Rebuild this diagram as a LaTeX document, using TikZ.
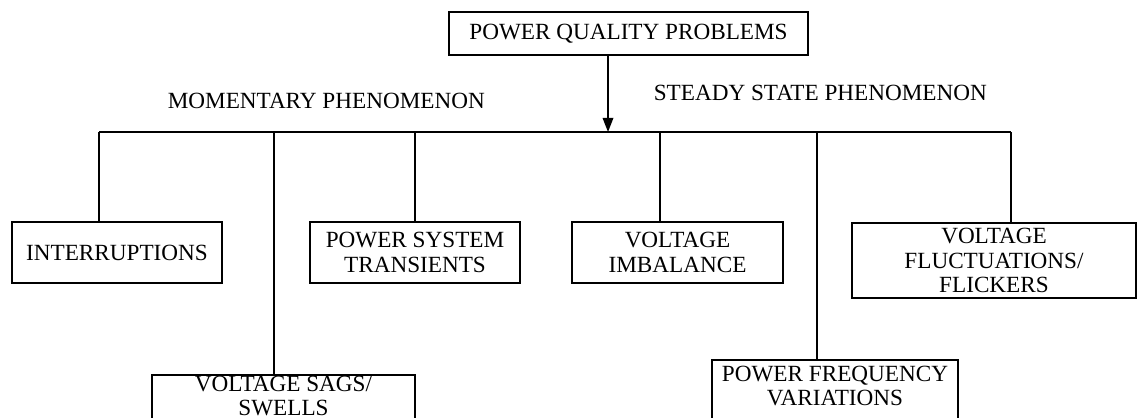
\documentclass[tikz,border=0pt]{standalone}
\usepackage{fontspec}
\setmainfont{Liberation Serif}
\usetikzlibrary{arrows.meta,positioning}

\begin{document}
\begin{tikzpicture}[x=0.02cm,y=-0.02cm,>={Triangle[width=6pt,length=8pt]},
  line width=0.9pt,font=\fontsize{13.2}{13.8}\selectfont,
  pqbox/.style={draw,align=center,inner sep=1pt,minimum height=1.22cm}]
\useasboundingbox (0,0) rectangle (1143,417);
\clip (0,0) rectangle (1143,417);
\node[pqbox,minimum width=7.18cm,minimum height=0.86cm] (PQ) at (628.5,33.5) {POWER QUALITY PROBLEMS};
\node[anchor=west,inner sep=0pt] (MOM) at (167,101) {MOMENTARY PHENOMENON};
\node[anchor=west,inner sep=0pt] (SSP) at (653,93) {STEADY STATE PHENOMENON};
\node[pqbox,minimum width=4.2cm] (INT) at (117,252.5) {INTERRUPTIONS};
\node[pqbox,minimum width=4.2cm] (PST) at (415,252.5) {POWER SYSTEM\\ TRANSIENTS};
\node[pqbox,minimum width=4.22cm] (VIM) at (677.5,252.5) {VOLTAGE\\ IMBALANCE};
\node[pqbox,minimum width=5.68cm,minimum height=1.5cm] (VFL) at (994,260.5) {VOLTAGE\\ FLUCTUATIONS/\\ FLICKERS};
\node[pqbox,anchor=north,minimum width=5.26cm,inner ysep=0.5pt,text depth=1cm] (VSS) at (283.5,374) {VOLTAGE SAGS/\\ SWELLS};
\node[pqbox,anchor=north,minimum width=4.92cm,inner ysep=3.5pt,text depth=1cm] (PFV) at (835,359) {POWER FREQUENCY\\ VARIATIONS};
% bus line
\coordinate (b0) at (608,132);
\coordinate (b1) at (99,132);
\coordinate (b2) at (274,132);
\coordinate (b3) at (415,132);
\coordinate (b4) at (660,132);
\coordinate (b5) at (817,132);
\coordinate (b6) at (1011,132);
\draw[->] (PQ.south -| b0) -- (b0);
\draw (b1) -- (b6);
\draw (b1) -- (b1 |- INT.north);
\draw (b2) -- (b2 |- VSS.north);
\draw (b3) -- (b3 |- PST.north);
\draw (b4) -- (b4 |- VIM.north);
\draw (b5) -- (b5 |- PFV.north);
\draw (b6) -- (b6 |- VFL.north);
\end{tikzpicture}
\end{document}
